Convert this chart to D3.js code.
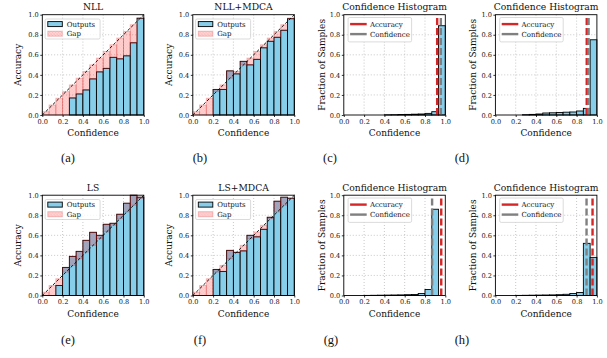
<!DOCTYPE html>
<html>
<head>
<meta charset="utf-8">
<script src="https://cdn.jsdelivr.net/npm/d3@7"></script>
<style>
  body { margin: 0; background: #fff; }
  svg text { font-family: "DejaVu Serif", serif; fill: #111; }
</style>
</head>
<body>
<svg id="fig" width="607" height="358"></svg>
<script>
// 15 confidence bins shared by every panel
const binEdges = [0, 0.0667, 0.1333, 0.2, 0.2667, 0.3333, 0.4, 0.4667, 0.5333, 0.6, 0.6667, 0.7333, 0.8, 0.8667, 0.9333, 1.0];
const binConf = [0.033, 0.1, 0.167, 0.233, 0.3, 0.367, 0.433, 0.5, 0.567, 0.633, 0.7, 0.767, 0.833, 0.9, 0.967];

// reliability diagrams: accuracy per bin
const accNLL     = [0, 0, 0, 0, 0.17, 0.21, 0.25, 0.36, 0.43, 0.465, 0.575, 0.56, 0.59, 0.72, 0.965];
const accNLLMDCA = [0, 0, 0, 0.255, 0.255, 0.44, 0.41, 0.535, 0.50, 0.555, 0.67, 0.735, 0.775, 0.845, 0.96];
const accLS      = [0, 0, 0.10, 0.28, 0.39, 0.44, 0.55, 0.63, 0.60, 0.71, 0.72, 0.81, 0.92, 1.0, 0.98];
const accLSMDCA  = [0, 0, 0, 0.26, 0.24, 0.45, 0.43, 0.445, 0.60, 0.585, 0.66, 0.78, 0.94, 0.98, 0.97];

// confidence histograms: fraction of samples per bin
const histNLL     = [0, 0, 0, 0, 0, 0, 0.002, 0.003, 0.005, 0.006, 0.008, 0.01, 0.016, 0.033, 0.89];
const histNLLMDCA = [0, 0, 0, 0, 0.003, 0.006, 0.01, 0.02, 0.022, 0.025, 0.028, 0.03, 0.04, 0.066, 0.75];
const histLS      = [0, 0, 0, 0.001, 0.002, 0.003, 0.004, 0.005, 0.006, 0.008, 0.01, 0.02, 0.06, 0.86, 0];
const histLSMDCA  = [0, 0, 0, 0.001, 0.002, 0.003, 0.004, 0.005, 0.006, 0.008, 0.012, 0.02, 0.03, 0.52, 0.38];

// average accuracy / confidence markers of the histograms (c, d, g, h)
const avgAccuracy   = [0.92, 0.90, 0.96, 0.957];
const avgConfidence = [0.956, 0.918, 0.87, 0.898];

const axisTicks = [0, 0.2, 0.4, 0.6, 0.8, 1.0];
const gridTicks = [0.2, 0.4, 0.6, 0.8];

const svg = d3.select("#fig");
const defs = svg.append("defs");

// "Gap" hatch: light translucent red with cross hatching
const hatch = defs.append("pattern")
  .attr("id", "hatch")
  .attr("patternUnits", "userSpaceOnUse")
  .attr("width", 3)
  .attr("height", 3);
hatch.append("rect").attr("width", 3).attr("height", 3)
  .attr("fill", "rgb(255,0,0)").attr("fill-opacity", 0.17);
hatch.append("path")
  .attr("d", "M0,3L3,0M-1,1L1,-1M2,4L4,2M0,0L3,3M-1,2L1,4M2,-1L4,1")
  .attr("stroke", "rgb(255,40,40)")
  .attr("stroke-opacity", 0.16)
  .attr("stroke-width", 0.5);

const W = 101.5, H = 100.3;
const rowTop = [14.7, 195.2];
const colLeft = [42.3, 192.8, 343.8, 495.4];

const panels = [
  { kind: "rel",  row: 0, col: 0, title: "NLL",       acc: accNLL,     tag: "(a)", tagX: 68 },
  { kind: "rel",  row: 0, col: 1, title: "NLL+MDCA",  acc: accNLLMDCA, tag: "(b)", tagX: 200 },
  { kind: "hist", row: 0, col: 2, title: "Confidence Histogram", hist: histNLL,     idx: 0, tag: "(c)", tagX: 330 },
  { kind: "hist", row: 0, col: 3, title: "Confidence Histogram", hist: histNLLMDCA, idx: 1, tag: "(d)", tagX: 462 },
  { kind: "rel",  row: 1, col: 0, title: "LS",        acc: accLS,      tag: "(e)", tagX: 68 },
  { kind: "rel",  row: 1, col: 1, title: "LS+MDCA",   acc: accLSMDCA,  tag: "(f)", tagX: 200 },
  { kind: "hist", row: 1, col: 2, title: "Confidence Histogram", hist: histLS,      idx: 2, tag: "(g)", tagX: 331 },
  { kind: "hist", row: 1, col: 3, title: "Confidence Histogram", hist: histLSMDCA,  idx: 3, tag: "(h)", tagX: 462 }
];

const tagY = [162, 344];

panels.forEach((p) => {
  const left = colLeft[p.col];
  const top = rowTop[p.row];
  const g = svg.append("g").attr("transform", `translate(${left},${top})`);

  const x = d3.scaleLinear().domain([0, 1]).range([0, W]);
  const y = d3.scaleLinear().domain([0, 1]).range([H, 0]);

  // dotted grid
  g.append("g").selectAll("line").data(gridTicks).join("line")
    .attr("x1", (d) => x(d)).attr("x2", (d) => x(d))
    .attr("y1", 0).attr("y2", H)
    .attr("stroke", "#aaa").attr("stroke-width", 0.8)
    .attr("stroke-dasharray", "0.8,2.2");
  g.append("g").selectAll("line").data(gridTicks).join("line")
    .attr("y1", (d) => y(d)).attr("y2", (d) => y(d))
    .attr("x1", 0).attr("x2", W)
    .attr("stroke", "#aaa").attr("stroke-width", 0.8)
    .attr("stroke-dasharray", "0.8,2.2");

  const bins = d3.range(binConf.length);

  if (p.kind === "rel") {
    // outputs
    g.append("g").selectAll("rect").data(bins.filter((i) => p.acc[i] > 0)).join("rect")
      .attr("x", (i) => x(binEdges[i]))
      .attr("width", (i) => x(binEdges[i + 1]) - x(binEdges[i]))
      .attr("y", (i) => y(p.acc[i]))
      .attr("height", (i) => y(0) - y(p.acc[i]))
      .attr("fill", "#87ceeb")
      .attr("stroke", "#000")
      .attr("stroke-width", 0.9);

    // gap between accuracy and confidence
    g.append("g").selectAll("rect").data(bins).join("rect")
      .attr("x", (i) => x(binEdges[i]))
      .attr("width", (i) => x(binEdges[i + 1]) - x(binEdges[i]))
      .attr("y", (i) => y(Math.max(p.acc[i], binConf[i])))
      .attr("height", (i) => Math.abs(y(p.acc[i]) - y(binConf[i])))
      .attr("fill", "url(#hatch)")
      .attr("stroke", "rgb(200,0,0)")
      .attr("stroke-opacity", 0.22)
      .attr("stroke-width", 1);

    // perfect calibration
    g.append("line")
      .attr("x1", x(0)).attr("y1", y(0))
      .attr("x2", x(1)).attr("y2", y(1))
      .attr("stroke", "#000").attr("stroke-width", 0.9)
      .attr("stroke-dasharray", "3,2");

    // legend
    const lg = g.append("g").attr("transform", "translate(2.8,4.3)");
    lg.append("rect").attr("width", 55).attr("height", 20).attr("rx", 1.5)
      .attr("fill", "#fff").attr("fill-opacity", 0.8)
      .attr("stroke", "#ccc").attr("stroke-width", 0.7);
    lg.append("rect").attr("x", 2.7).attr("y", 2.6).attr("width", 14.5).attr("height", 5)
      .attr("fill", "#87ceeb").attr("stroke", "#000").attr("stroke-width", 0.9);
    lg.append("rect").attr("x", 2.7).attr("y", 12.2).attr("width", 14.5).attr("height", 5)
      .attr("fill", "url(#hatch)").attr("stroke", "rgb(200,0,0)")
      .attr("stroke-opacity", 0.22).attr("stroke-width", 1);
    lg.append("text").attr("x", 21.6).attr("y", 7.6).attr("font-size", 7).text("Outputs");
    lg.append("text").attr("x", 21.6).attr("y", 17.2).attr("font-size", 7).text("Gap");
  } else {
    g.append("g").selectAll("rect").data(bins.filter((i) => p.hist[i] > 0)).join("rect")
      .attr("x", (i) => x(binEdges[i]))
      .attr("width", (i) => x(binEdges[i + 1]) - x(binEdges[i]))
      .attr("y", (i) => y(p.hist[i]))
      .attr("height", (i) => y(0) - y(p.hist[i]))
      .attr("fill", "#87ceeb")
      .attr("stroke", "#000")
      .attr("stroke-width", 0.9);

    g.append("line")
      .attr("x1", x(avgAccuracy[p.idx])).attr("x2", x(avgAccuracy[p.idx]))
      .attr("y1", y(0)).attr("y2", y(1))
      .attr("stroke", "#d62728").attr("stroke-width", 2.4)
      .attr("stroke-dasharray", "7,3");
    g.append("line")
      .attr("x1", x(avgConfidence[p.idx])).attr("x2", x(avgConfidence[p.idx]))
      .attr("y1", y(0)).attr("y2", y(1))
      .attr("stroke", "#808080").attr("stroke-width", 2.4)
      .attr("stroke-dasharray", "7,3");

    const lg = g.append("g").attr("transform", "translate(4.3,2.8)");
    lg.append("rect").attr("width", 63.5).attr("height", 24.4).attr("rx", 1.5)
      .attr("fill", "#fff").attr("fill-opacity", 0.8)
      .attr("stroke", "#ccc").attr("stroke-width", 0.7);
    lg.append("line").attr("x1", 2).attr("x2", 18.6).attr("y1", 6.6).attr("y2", 6.6)
      .attr("stroke", "#d62728").attr("stroke-width", 2.4);
    lg.append("line").attr("x1", 2).attr("x2", 18.6).attr("y1", 16.6).attr("y2", 16.6)
      .attr("stroke", "#808080").attr("stroke-width", 2.4);
    lg.append("text").attr("x", 21.8).attr("y", 9.1).attr("font-size", 7).text("Accuracy");
    lg.append("text").attr("x", 21.8).attr("y", 19.1).attr("font-size", 7).text("Confidence");
  }

  // frame
  g.append("rect").attr("width", W).attr("height", H)
    .attr("fill", "none").attr("stroke", "#000").attr("stroke-width", 0.9);

  // axes
  const xAxis = g.append("g").attr("transform", `translate(0,${H})`)
    .call(d3.axisBottom(x).tickValues(axisTicks).tickFormat(d3.format(".1f")).tickSize(2).tickPadding(2));
  const yAxis = g.append("g")
    .call(d3.axisLeft(y).tickValues(axisTicks).tickFormat(d3.format(".1f")).tickSize(2).tickPadding(1.5));
  [xAxis, yAxis].forEach((a) => {
    a.attr("font-family", null);
    a.select(".domain").remove();
    a.selectAll(".tick line").attr("stroke", "#000").attr("stroke-width", 0.8);
    a.selectAll(".tick text").attr("font-size", 6.6).attr("fill", "#222");
  });

  g.append("text").attr("x", W / 2).attr("y", -4.5)
    .attr("text-anchor", "middle").attr("font-size", 9.2).text(p.title);
  g.append("text").attr("x", W / 2).attr("y", H + 21.2)
    .attr("text-anchor", "middle").attr("font-size", 9).text("Confidence");
  g.append("text")
    .attr("transform", `translate(${p.kind === "rel" ? -21.2 : -19},${H / 2}) rotate(-90)`)
    .attr("text-anchor", "middle").attr("font-size", 9)
    .text(p.kind === "rel" ? "Accuracy" : "Fraction of Samples");

  svg.append("text").attr("x", p.tagX).attr("y", tagY[p.row])
    .attr("text-anchor", "middle")
    .style("font-family", "'Liberation Serif', 'Times New Roman', serif")
    .attr("font-size", 12.5)
    .text(p.tag);
});
</script>
</body>
</html>
